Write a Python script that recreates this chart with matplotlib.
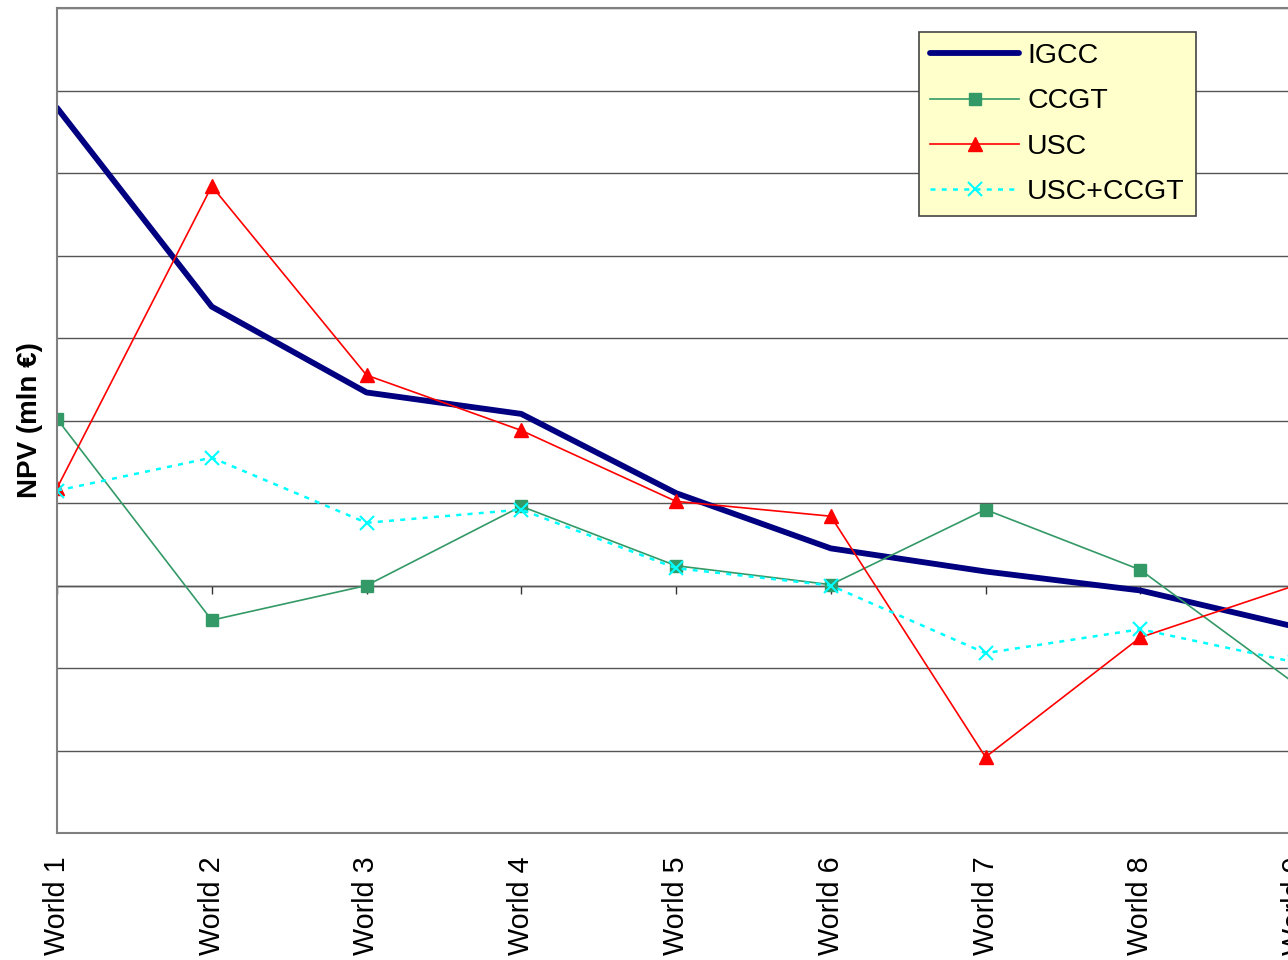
import numpy as np
import matplotlib
matplotlib.use("Agg")
import matplotlib.pyplot as plt

plt.rcParams['font.family'] = ['Liberation Sans', 'DejaVu Sans']

# data (one grid step = 1 unit)
worlds = ["World 1", "World 2", "World 3", "World 4", "World 5",
          "World 6", "World 7", "World 8", "World 9"]
igcc = [5.79, 3.38, 2.34, 2.08, 1.12, 0.45, 0.17, -0.06, -0.50]
ccgt = [2.02, -0.42, 0.00, 0.96, 0.24, 0.01, 0.92, 0.19, -1.19]
usc = [1.18, 4.84, 2.55, 1.88, 1.02, 0.84, -2.08, -0.63, 0.00]
usc_ccgt = [1.15, 1.55, 0.76, 0.92, 0.21, 0.00, -0.82, -0.53, -0.93]

x = np.arange(len(worlds))

fig = plt.figure(figsize=(12.88, 9.6), dpi=100)
# plot area runs past the right edge, like the cropped original
ax = fig.add_axes([57/1288, 127/960, 1238/1288, 825/960])

ax.set_xlim(0, len(worlds) - 1)
ax.set_ylim(-3, 7)
ax.set_yticks(np.arange(-3, 8))
ax.yaxis.grid(True, color="#555555", linewidth=1.0)
ax.set_axisbelow(True)
ax.tick_params(axis="y", length=0, labelleft=False)

for s in ax.spines.values():
    s.set_color("#808080")
    s.set_linewidth(1.5)

ax.plot(x, igcc, color="#000080", linewidth=4.2, label="IGCC",
        solid_capstyle="round")
ax.plot(x, ccgt, color="#339966", linewidth=1.2, marker="s",
        markersize=8, label="CCGT")
ax.plot(x, usc, color="#ff0000", linewidth=1.2, marker="^",
        markersize=10, label="USC")
ax.plot(x, usc_ccgt, color="#00ffff", linewidth=1.8, linestyle=(0, (2, 2.5)),
        marker="x", markersize=10, markeredgewidth=1.5, label="USC+CCGT")

ax.set_xticks(x)
ax.set_xticklabels(worlds, rotation=90, fontsize=20.7)
ax.tick_params(axis="x", length=0, pad=17)

# category axis crossing at zero with small ticks
zero_ax = ax.secondary_xaxis(0.3)
zero_ax.set_xticks(x)
zero_ax.tick_params(axis="x", direction="out", length=6, width=1,
                    color="#333333", labelbottom=False)
zero_ax.spines["bottom"].set_color("#222222")
zero_ax.spines["bottom"].set_linewidth(1.0)

ax.set_ylabel("NPV (mln €)", fontsize=20, fontweight="bold", labelpad=10)

leg = ax.legend(loc="upper left", bbox_to_anchor=(919/1288, 1 - 32/960),
                bbox_transform=fig.transFigure, fontsize=20.5, frameon=True,
                fancybox=False, handlelength=3.1, labelspacing=0.67,
                handletextpad=0.3, borderpad=0.4, borderaxespad=0)
leg.get_frame().set_facecolor("#ffffcc")
leg.get_frame().set_edgecolor("#444444")
leg.get_frame().set_linewidth(1.2)
leg.get_frame().set_alpha(1)

fig.savefig("out.png", dpi=100)
